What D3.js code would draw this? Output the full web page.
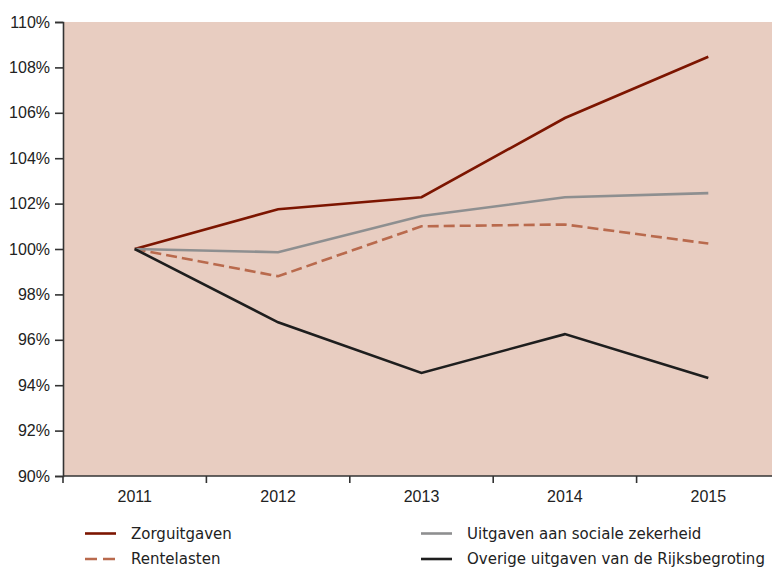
<!DOCTYPE html>
<html>
<head>
<meta charset="utf-8">
<script src="https://cdn.jsdelivr.net/npm/d3@7/dist/d3.min.js"></script>
<style>
  html, body { margin: 0; padding: 0; background: #fff; }
  svg { display: block; font-family: "Liberation Sans", Arial, sans-serif; }
</style>
</head>
<body>
<svg id="chart" width="772" height="568"></svg>
<script>
// Index of spending, 2011 = 100%
const years = [2011, 2012, 2013, 2014, 2015];
const zorguitgaven = [100, 101.75, 102.28, 105.77, 108.47];
const rentelasten = [100, 98.8, 101.0, 101.08, 100.24];
const socialeZekerheid = [100, 99.86, 101.45, 102.28, 102.46];
const overigeUitgaven = [100, 96.77, 94.54, 96.25, 94.32];
const yTicks = [90, 92, 94, 96, 98, 100, 102, 104, 106, 108, 110];

const series = [
  { name: "Zorguitgaven", values: zorguitgaven, color: "#7c1500", dash: null },
  { name: "Rentelasten", values: rentelasten, color: "#b96a4d", dash: "11,5" },
  { name: "Uitgaven aan sociale zekerheid", values: socialeZekerheid, color: "#8e8f90", dash: null },
  { name: "Overige uitgaven van de Rijksbegroting", values: overigeUitgaven, color: "#1e1e1e", dash: null }
];

const svg = d3.select("#chart");
const plotLeft = 63, plotTop = 22, plotBottom = 476, plotRight = 780;
const numFont = "'Liberation Sans', Arial, sans-serif";
const textFont = "'DejaVu Sans', sans-serif";

const x = d3.scaleBand().domain(years).range([plotLeft, plotRight]);
const y = d3.scaleLinear().domain([90, 110]).range([plotBottom, plotTop]);

// plot background
svg.append("rect")
  .attr("x", plotLeft).attr("y", plotTop)
  .attr("width", plotRight - plotLeft).attr("height", plotBottom - plotTop)
  .attr("fill", "#e8cdc1");

// y axis
const yAxis = svg.append("g")
  .attr("transform", `translate(${plotLeft},0)`)
  .call(d3.axisLeft(y).tickValues(yTicks).tickSize(8).tickPadding(5)
    .tickFormat(d => d + "%"));
yAxis.select(".domain").attr("stroke", "#333").attr("stroke-width", 1.6);
yAxis.selectAll(".tick line").attr("stroke", "#333").attr("stroke-width", 1.6);
yAxis.selectAll(".tick text").attr("fill", "#222")
  .style("font-size", "16px").style("font-family", numFont);

// x axis: ticks on band boundaries, labels centred in bands
const xAxisG = svg.append("g").attr("transform", `translate(0,${plotBottom})`);
xAxisG.append("line")
  .attr("x1", plotLeft).attr("x2", plotRight)
  .attr("stroke", "#333").attr("stroke-width", 1.6);
xAxisG.selectAll(".xtick").data(years).join("line")
  .attr("class", "xtick")
  .attr("x1", d => x(d)).attr("x2", d => x(d))
  .attr("y1", 0).attr("y2", 7)
  .attr("stroke", "#333").attr("stroke-width", 1.6);
xAxisG.selectAll(".xlabel").data(years).join("text")
  .attr("class", "xlabel")
  .attr("x", d => x(d) + x.bandwidth() / 2)
  .attr("y", 26)
  .attr("text-anchor", "middle")
  .attr("fill", "#222")
  .style("font-size", "16px")
  .style("font-family", numFont)
  .text(d => d);

// lines
const line = d3.line()
  .x((d, i) => x(years[i]) + x.bandwidth() / 2)
  .y(d => y(d));

svg.selectAll(".series").data(series).join("path")
  .attr("class", "series")
  .attr("d", d => line(d.values))
  .attr("fill", "none")
  .attr("stroke", d => d.color)
  .attr("stroke-width", 2.6)
  .attr("stroke-dasharray", d => d.dash);

// legend
const legendPos = [
  { x: 85, y: 533.5 }, { x: 85, y: 559 },
  { x: 421, y: 533.5 }, { x: 421, y: 559 }
];
const legend = svg.selectAll(".legend").data(series).join("g")
  .attr("class", "legend")
  .attr("transform", (d, i) => `translate(${legendPos[i].x},${legendPos[i].y})`);
legend.append("line")
  .attr("x1", 0).attr("x2", 31)
  .attr("stroke", d => d.color)
  .attr("stroke-width", 2.6)
  .attr("stroke-dasharray", d => d.dash ? "12,6" : null);
legend.append("text")
  .attr("x", 46).attr("y", 5)
  .attr("fill", "#222")
  .style("font-size", "15px")
  .style("font-family", textFont)
  .text(d => d.name);
</script>
</body>
</html>
